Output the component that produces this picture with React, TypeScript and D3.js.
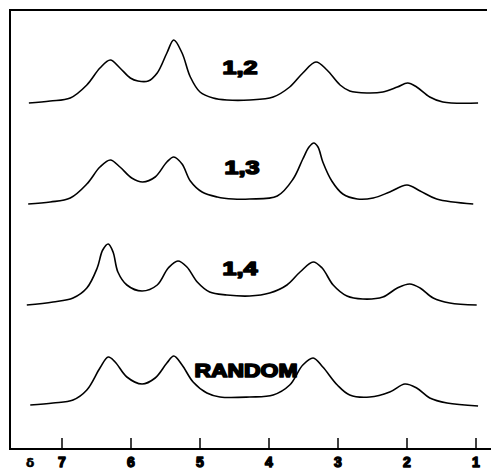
import React, { useEffect, useRef } from 'react';
import * as d3 from 'd3';

// chemical shift (ppm) and relative intensity
const series12: [number, number][] = [
  [7.48, 1], [7.17, 3], [6.88, 6], [6.64, 19], [6.45, 36], [6.30, 44], [6.16, 36], [6.01, 26],
  [5.90, 23], [5.75, 23], [5.62, 31], [5.48, 51], [5.38, 64], [5.26, 51], [5.14, 27], [5.00, 12],
  [4.81, 6], [4.61, 4], [4.28, 4], [3.94, 7], [3.70, 17], [3.51, 31], [3.32, 42], [3.16, 34],
  [2.97, 19], [2.83, 13], [2.58, 11], [2.35, 12], [2.14, 17], [1.99, 21], [1.86, 17], [1.67, 7],
  [1.48, 2], [0.97, 1]
];

const series13: [number, number][] = [
  [7.49, 1], [7.17, 3], [6.88, 7], [6.64, 21], [6.45, 38], [6.30, 45], [6.16, 38], [5.99, 27],
  [5.83, 23], [5.65, 28], [5.48, 43], [5.38, 48], [5.26, 41], [5.14, 24], [4.97, 13], [4.75, 8],
  [4.52, 6], [4.28, 6], [3.88, 9], [3.65, 26], [3.51, 46], [3.42, 58], [3.35, 62], [3.29, 58],
  [3.22, 43], [3.09, 24], [2.93, 11], [2.72, 6], [2.49, 7], [2.25, 13], [2.00, 20], [1.81, 14],
  [1.57, 6], [1.04, 1]
];

const series14: [number, number][] = [
  [7.51, 1], [7.13, 4], [6.84, 8], [6.64, 18], [6.49, 38], [6.41, 56], [6.33, 62], [6.26, 54],
  [6.19, 34], [6.06, 21], [5.84, 15], [5.62, 21], [5.46, 38], [5.32, 45], [5.19, 39], [5.04, 24],
  [4.86, 14], [4.61, 11], [4.28, 10], [3.99, 13], [3.74, 21], [3.55, 34], [3.36, 44], [3.23, 38],
  [3.07, 21], [2.87, 10], [2.64, 7], [2.35, 9], [2.14, 18], [1.96, 22], [1.81, 18], [1.62, 8],
  [1.38, 3], [0.99, 1]
];

const seriesRandom: [number, number][] = [
  [7.46, 2], [7.13, 4], [6.84, 7], [6.64, 17], [6.45, 39], [6.33, 50], [6.23, 45], [6.06, 30],
  [5.84, 23], [5.65, 29], [5.48, 44], [5.38, 51], [5.26, 42], [5.10, 25], [4.90, 14], [4.71, 10],
  [4.28, 10], [3.94, 12], [3.70, 22], [3.51, 42], [3.36, 49], [3.22, 40], [3.01, 22], [2.83, 12],
  [2.54, 10], [2.25, 15], [2.03, 23], [1.86, 19], [1.67, 9], [1.42, 4], [0.97, 1]
];

const traceNames = ['1,2', '1,3', '1,4', 'RANDOM'];
const traceData = [series12, series13, series14, seriesRandom];
const shiftTicks = [7, 6, 5, 4, 3, 2, 1];

const W = 491;
const H = 470;

export default function App() {
  const ref = useRef<SVGSVGElement>(null);

  useEffect(() => {
    document.body.style.margin = '0';
    const svg = d3.select(ref.current);
    svg.selectAll('*').remove();

    svg.append('rect').attr('width', W).attr('height', H).attr('fill', '#fff');

    const x = d3.scaleLinear().domain([7, 1]).range([62, 476]);
    const base = d3.scalePoint<string>().domain(traceNames).range([104, 407]);
    const amp = d3.scaleLinear().domain([0, 70]).range([0, 70]);

    // frame: top, left, bottom (no right edge)
    svg.append('path')
      .attr('d', `M487,10 H10 V449 H491`)
      .attr('stroke', '#000').attr('stroke-width', 2).attr('fill', 'none');

    // ticks
    svg.append('g')
      .selectAll('line')
      .data(shiftTicks)
      .join('line')
      .attr('x1', d => x(d)).attr('x2', d => x(d))
      .attr('y1', 438).attr('y2', 449)
      .attr('stroke', '#000').attr('stroke-width', 1.5);

    svg.append('g')
      .selectAll('text')
      .data(shiftTicks)
      .join('text')
      .attr('x', d => x(d))
      .attr('y', 467)
      .attr('text-anchor', 'middle')
      .attr('font-family', 'Liberation Sans, Arial, sans-serif')
      .attr('font-weight', 'bold')
      .attr('font-size', 14)
      .attr('stroke', '#000').attr('stroke-width', 1.4)
      .attr('stroke-linejoin', 'round')
      .text(d => d);

    svg.append('text')
      .attr('x', 30).attr('y', 467)
      .attr('text-anchor', 'middle')
      .attr('font-family', 'DejaVu Sans, sans-serif')
      .attr('font-weight', 'bold')
      .attr('font-size', 12)
      .attr('stroke', '#000').attr('stroke-width', 0.6)
      .text('δ');

    const line = d3.line<[number, number]>()
      .x(d => x(d[0]))
      .y(d => -amp(d[1]))
      .curve(d3.curveCatmullRom.alpha(0.5));

    const labelPos: Record<string, { x: number; dy: number; w: number }> = {
      '1,2': { x: 240, dy: -30, w: 35 },
      '1,3': { x: 242, dy: -31, w: 35 },
      '1,4': { x: 240, dy: -31, w: 35 },
      'RANDOM': { x: 246, dy: -30, w: 103 }
    };

    traceNames.forEach((name, i) => {
      const g = svg.append('g').attr('transform', `translate(0,${base(name)})`);
      g.append('path')
        .attr('d', line(traceData[i]) as string)
        .attr('fill', 'none')
        .attr('stroke', '#000')
        .attr('stroke-width', 1.6)
        .attr('stroke-linejoin', 'round');

      const lp = labelPos[name];
      g.append('text')
        .attr('x', lp.x - lp.w / 2)
        .attr('y', lp.dy)
        .attr('textLength', lp.w)
        .attr('lengthAdjust', 'spacingAndGlyphs')
        .attr('font-family', 'Liberation Sans, Arial, sans-serif')
        .attr('font-weight', 'bold')
        .attr('font-size', 19)
        .attr('stroke', '#000').attr('stroke-width', 1.6)
        .attr('stroke-linejoin', 'round')
        .text(name);
    });
  }, []);

  return <svg ref={ref} width={W} height={H} style={{ display: 'block' }} />;
}
